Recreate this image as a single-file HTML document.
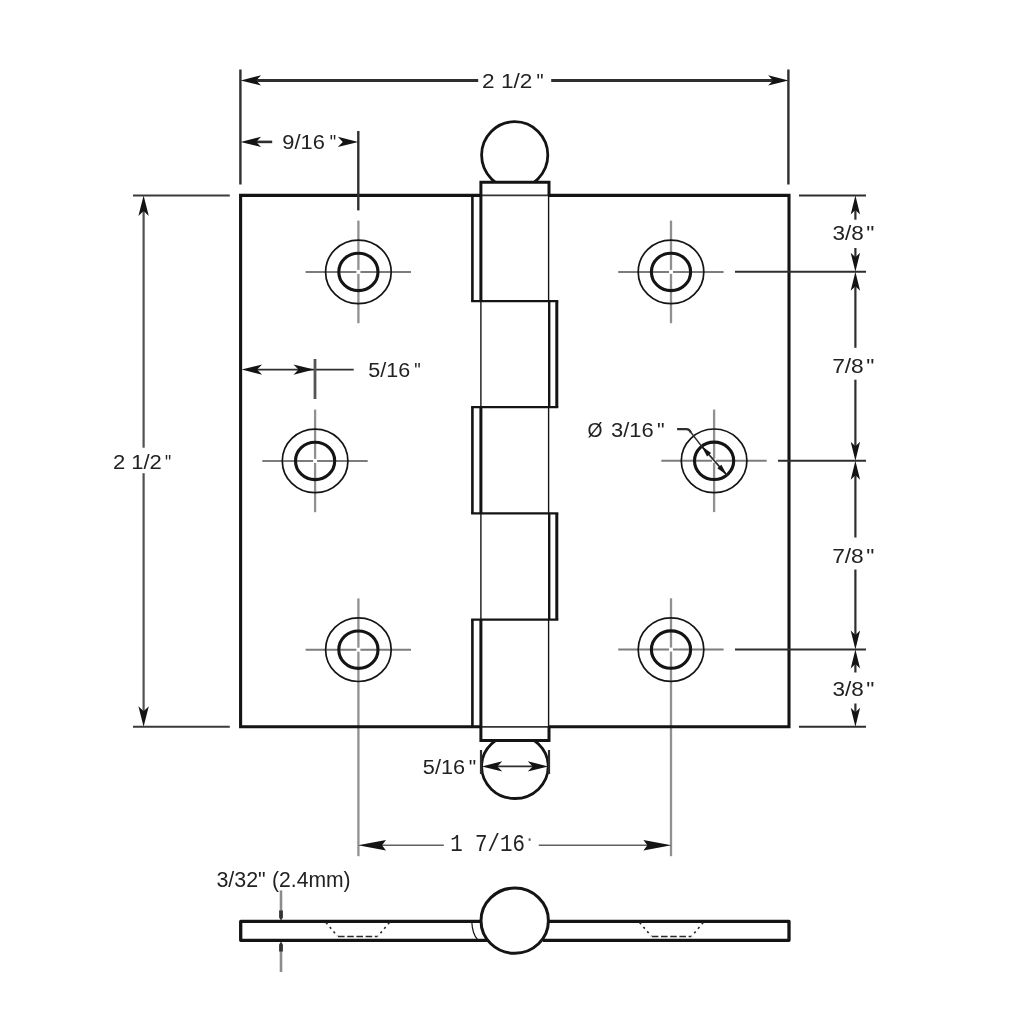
<!DOCTYPE html>
<html><head><meta charset="utf-8"><title>Hinge drawing</title>
<style>
html,body{margin:0;padding:0;background:#fff;}
body{width:1012px;height:1018px;overflow:hidden;}
svg{display:block;filter:grayscale(1);}
text{font-family:"Liberation Sans",sans-serif;fill:#222;}
.m{font-family:"Liberation Mono",monospace;}
</style></head><body>
<svg width="1012" height="1018" viewBox="0 0 1012 1018">
<rect width="1012" height="1018" fill="#fff"/>
<defs>
<path id="ah" d="M0,0 L-20.5,-5.2 L-15.5,0 L-20.5,5.2 Z"/>
<path id="al" d="M0,0 L-28,-5.2 L-24,0 L-28,5.2 Z"/>
<path id="as" d="M0,0 L-19,-4.7 L-14.5,0 L-19,4.7 Z"/>
<g id="hole">
 <line x1="-52.8" y1="0" x2="-2" y2="0" stroke="#7c7c7c" stroke-width="2"/>
 <line x1="2" y1="0" x2="52.6" y2="0" stroke="#7c7c7c" stroke-width="2"/>
 <ellipse rx="32.8" ry="31.8" fill="none" stroke="#141414" stroke-width="1.7"/>
 <ellipse rx="19.6" ry="18.7" fill="none" stroke="#141414" stroke-width="3.1"/>
</g>
</defs>

<line x1="358.4" y1="220.59999999999997" x2="358.4" y2="269.9" stroke="#909090" stroke-width="2.3" />
<line x1="358.4" y1="273.9" x2="358.4" y2="323.2" stroke="#909090" stroke-width="2.3" />
<line x1="315.1" y1="409.59999999999997" x2="315.1" y2="458.9" stroke="#909090" stroke-width="2.3" />
<line x1="315.1" y1="462.9" x2="315.1" y2="512.1999999999999" stroke="#909090" stroke-width="2.3" />
<line x1="358.4" y1="598.4000000000001" x2="358.4" y2="647.7" stroke="#909090" stroke-width="2.3" />
<line x1="358.4" y1="651.7" x2="358.4" y2="856.2" stroke="#909090" stroke-width="2.3" />
<line x1="671" y1="220.59999999999997" x2="671" y2="269.9" stroke="#909090" stroke-width="2.3" />
<line x1="671" y1="273.9" x2="671" y2="323.2" stroke="#909090" stroke-width="2.3" />
<line x1="714.1" y1="409.5" x2="714.1" y2="458.8" stroke="#909090" stroke-width="2.3" />
<line x1="714.1" y1="462.8" x2="714.1" y2="512.1" stroke="#909090" stroke-width="2.3" />
<line x1="671" y1="598.3000000000001" x2="671" y2="647.6" stroke="#909090" stroke-width="2.3" />
<line x1="671" y1="651.6" x2="671" y2="856.2" stroke="#909090" stroke-width="2.3" />
<path d="M481,195.4 H240.6 V726.8 H481 M549,195.4 H789.0 V726.8 H549" fill="none" stroke="#141414" stroke-width="3.1" stroke-linejoin="miter"/>
<line x1="481" y1="195.4" x2="549" y2="195.4" stroke="#333" stroke-width="1.8" />
<line x1="481" y1="726.8" x2="549" y2="726.8" stroke="#333" stroke-width="1.8" />
<path d="M480.9,195.4 V182.2 H549.0 V195.4" fill="none" stroke="#141414" stroke-width="3"/>
<path d="M480.9,726.8 V740.4 H549.0 V726.8" fill="none" stroke="#141414" stroke-width="3"/>
<line x1="480.9" y1="195.4" x2="480.9" y2="301.2" stroke="#141414" stroke-width="3" />
<line x1="548.6" y1="195.4" x2="548.6" y2="301.2" stroke="#141414" stroke-width="1.4" />
<line x1="472.4" y1="195.4" x2="472.4" y2="301.2" stroke="#141414" stroke-width="2.6" />
<line x1="480.9" y1="301.2" x2="480.9" y2="407.2" stroke="#141414" stroke-width="1.4" />
<line x1="549.2" y1="301.2" x2="549.2" y2="407.2" stroke="#141414" stroke-width="2.4" />
<line x1="556.8" y1="301.2" x2="556.8" y2="407.2" stroke="#141414" stroke-width="3" />
<line x1="480.9" y1="407.2" x2="480.9" y2="513.4" stroke="#141414" stroke-width="3" />
<line x1="548.6" y1="407.2" x2="548.6" y2="513.4" stroke="#141414" stroke-width="1.4" />
<line x1="472.4" y1="407.2" x2="472.4" y2="513.4" stroke="#141414" stroke-width="2.6" />
<line x1="480.9" y1="513.4" x2="480.9" y2="619.7" stroke="#141414" stroke-width="1.4" />
<line x1="549.2" y1="513.4" x2="549.2" y2="619.7" stroke="#141414" stroke-width="2.4" />
<line x1="556.8" y1="513.4" x2="556.8" y2="619.7" stroke="#141414" stroke-width="3" />
<line x1="480.9" y1="619.7" x2="480.9" y2="726.8" stroke="#141414" stroke-width="3" />
<line x1="548.6" y1="619.7" x2="548.6" y2="726.8" stroke="#141414" stroke-width="1.4" />
<line x1="472.4" y1="619.7" x2="472.4" y2="726.8" stroke="#141414" stroke-width="2.6" />
<path d="M471.09999999999997,301.2 H558.3" stroke="#141414" stroke-width="2.2" fill="none"/>
<path d="M471.09999999999997,407.2 H558.3" stroke="#141414" stroke-width="2.2" fill="none"/>
<path d="M471.09999999999997,513.4 H558.3" stroke="#141414" stroke-width="2.2" fill="none"/>
<path d="M471.09999999999997,619.7 H558.3" stroke="#141414" stroke-width="2.2" fill="none"/>
<clipPath id="ct"><rect x="470" y="100" width="90" height="82.2"/></clipPath>
<clipPath id="cb"><rect x="470" y="740.4" width="90" height="81"/></clipPath>
<ellipse cx="514.7" cy="155.1" rx="33.1" ry="33.4" fill="none" stroke="#141414" stroke-width="2.8" clip-path="url(#ct)"/>
<ellipse cx="514.9" cy="766.6" rx="33.3" ry="31.9" fill="none" stroke="#141414" stroke-width="2.8" clip-path="url(#cb)"/>
<use href="#hole" x="358.4" y="271.9"/>
<use href="#hole" x="315.1" y="460.9"/>
<use href="#hole" x="358.4" y="649.7"/>
<use href="#hole" x="671" y="271.9"/>
<use href="#hole" x="714.1" y="460.8"/>
<use href="#hole" x="671" y="649.6"/>
<line x1="240.4" y1="69.5" x2="240.4" y2="184.5" stroke="#2e2e2e" stroke-width="2.4" />
<line x1="788.4" y1="69.5" x2="788.4" y2="184.5" stroke="#2e2e2e" stroke-width="2.4" />
<line x1="254.6" y1="80.4" x2="478.2" y2="80.4" stroke="#2e2e2e" stroke-width="3" />
<line x1="551.2" y1="80.4" x2="775.0" y2="80.4" stroke="#2e2e2e" stroke-width="3" />
<use href="#ah" transform="translate(240.6,80.4) rotate(180)" fill="#141414"/>
<use href="#ah" transform="translate(788.6,80.4) rotate(0)" fill="#141414"/>
<text transform="translate(482.07,87.7) scale(1.0865,1)" font-size="20.8">2 1/2</text>
<text transform="translate(536.46,87.7) scale(0.9580,1)" font-size="20.8">&quot;</text>
<line x1="358.3" y1="131" x2="358.3" y2="210.4" stroke="#2e2e2e" stroke-width="2.4" />
<line x1="252.6" y1="141.9" x2="272.2" y2="141.9" stroke="#2e2e2e" stroke-width="2.6" />
<use href="#ah" transform="translate(240.6,141.9) rotate(180)" fill="#141414"/>
<use href="#ah" transform="translate(358.3,141.9) rotate(0)" fill="#141414"/>
<text transform="translate(282.29,148.8) scale(1.0511,1)" font-size="20.8">9/16</text>
<text transform="translate(329.64,148.8) scale(0.8693,1)" font-size="20.8">&quot;</text>
<line x1="250.6" y1="369.6" x2="353.7" y2="369.6" stroke="#2e2e2e" stroke-width="1.8" />
<line x1="315" y1="359" x2="315" y2="399" stroke="#555" stroke-width="2.8" />
<use href="#ah" transform="translate(241.6,369.6) rotate(180)" fill="#141414"/>
<use href="#ah" transform="translate(314,369.6) rotate(0)" fill="#141414"/>
<text transform="translate(368.24,376.9) scale(1.0348,1)" font-size="20.8">5/16</text>
<text transform="translate(414.24,376.9) scale(0.8693,1)" font-size="20.8">&quot;</text>
<line x1="133" y1="195.4" x2="229.8" y2="195.4" stroke="#3a3a3a" stroke-width="2" />
<line x1="133" y1="726.8" x2="229.8" y2="726.8" stroke="#3a3a3a" stroke-width="2" />
<line x1="143.6" y1="205.4" x2="143.6" y2="447.7" stroke="#505050" stroke-width="2.2" />
<line x1="143.6" y1="473.2" x2="143.6" y2="716.8" stroke="#505050" stroke-width="2.2" />
<use href="#ah" transform="translate(143.6,195.4) rotate(-90)" fill="#141414"/>
<use href="#ah" transform="translate(143.6,726.8) rotate(90)" fill="#141414"/>
<text transform="translate(112.90,468.7) scale(1.0593,1)" font-size="20.8">2 1/2</text>
<text transform="translate(165.07,468.7) scale(0.8338,1)" font-size="20.8">&quot;</text>
<line x1="799" y1="195.4" x2="866" y2="195.4" stroke="#2e2e2e" stroke-width="2" />
<line x1="735" y1="271.7" x2="866" y2="271.7" stroke="#2e2e2e" stroke-width="2" />
<line x1="778" y1="460.7" x2="866" y2="460.7" stroke="#2e2e2e" stroke-width="2" />
<line x1="735" y1="649.6" x2="866" y2="649.6" stroke="#2e2e2e" stroke-width="2" />
<line x1="799" y1="726.8" x2="866" y2="726.8" stroke="#2e2e2e" stroke-width="2" />
<line x1="855.4" y1="203.4" x2="855.4" y2="219.7" stroke="#2e2e2e" stroke-width="2.2" />
<line x1="855.4" y1="248" x2="855.4" y2="263.7" stroke="#2e2e2e" stroke-width="2.2" />
<use href="#as" transform="translate(855.4,195.4) rotate(-90)" fill="#141414"/>
<use href="#as" transform="translate(855.4,271.7) rotate(90)" fill="#141414"/>
<text transform="translate(832.44,239.8) scale(1.0835,1)" font-size="20.8">3/8</text>
<text transform="translate(866.34,239.8) scale(1.0999,1)" font-size="20.8">&quot;</text>
<line x1="855.4" y1="279.7" x2="855.4" y2="347.8" stroke="#2e2e2e" stroke-width="2.2" />
<line x1="855.4" y1="379.7" x2="855.4" y2="452.7" stroke="#2e2e2e" stroke-width="2.2" />
<use href="#as" transform="translate(855.4,271.7) rotate(-90)" fill="#141414"/>
<use href="#as" transform="translate(855.4,460.7) rotate(90)" fill="#141414"/>
<text transform="translate(832.14,372.7) scale(1.0943,1)" font-size="20.8">7/8</text>
<text transform="translate(866.34,372.7) scale(1.0999,1)" font-size="20.8">&quot;</text>
<line x1="855.4" y1="468.7" x2="855.4" y2="537.5" stroke="#2e2e2e" stroke-width="2.2" />
<line x1="855.4" y1="569.5" x2="855.4" y2="641.6" stroke="#2e2e2e" stroke-width="2.2" />
<use href="#as" transform="translate(855.4,460.7) rotate(-90)" fill="#141414"/>
<use href="#as" transform="translate(855.4,649.6) rotate(90)" fill="#141414"/>
<text transform="translate(832.14,562.7) scale(1.0943,1)" font-size="20.8">7/8</text>
<text transform="translate(866.34,562.7) scale(1.0999,1)" font-size="20.8">&quot;</text>
<line x1="855.4" y1="657.6" x2="855.4" y2="672.5" stroke="#2e2e2e" stroke-width="2.2" />
<line x1="855.4" y1="703.5" x2="855.4" y2="718.8" stroke="#2e2e2e" stroke-width="2.2" />
<use href="#as" transform="translate(855.4,649.6) rotate(-90)" fill="#141414"/>
<use href="#as" transform="translate(855.4,726.8) rotate(90)" fill="#141414"/>
<text transform="translate(832.44,695.5) scale(1.0835,1)" font-size="20.8">3/8</text>
<text transform="translate(866.34,695.5) scale(1.0999,1)" font-size="20.8">&quot;</text>
<text transform="translate(587.54,437.0) scale(0.9264,1)" font-size="20.8">Ø</text>
<text transform="translate(611.07,437.0) scale(1.0543,1)" font-size="20.8">3/16</text>
<text transform="translate(657.00,437.0) scale(1.0290,1)" font-size="20.8">&quot;</text>
<path d="M677.1,429.2 H686.6 Q689.4,429.3 690.9,432.4 " fill="none" stroke="#2e2e2e" stroke-width="2.2"/>
<line x1="690.6" y1="432" x2="701.5" y2="446.1" stroke="#2e2e2e" stroke-width="1.5" />
<line x1="701.5" y1="446.1" x2="726.9" y2="475.1" stroke="#2e2e2e" stroke-width="1.6" />
<path d="M0,0 L-11.5,-2.7 L-11.5,2.7 Z" transform="translate(701.5,446.1) rotate(228.9)" fill="#141414"/>
<path d="M0,0 L-11.5,-2.7 L-11.5,2.7 Z" transform="translate(726.9,475.1) rotate(48.9)" fill="#141414"/>
<line x1="481" y1="750" x2="481" y2="774" stroke="#2e2e2e" stroke-width="2.2" />
<line x1="549" y1="750" x2="549" y2="774" stroke="#2e2e2e" stroke-width="2.2" />
<line x1="490" y1="766.4" x2="540" y2="766.4" stroke="#2e2e2e" stroke-width="1.6" />
<use href="#ah" transform="translate(481.8,766.4) rotate(180)" fill="#141414"/>
<use href="#ah" transform="translate(548.2,766.4) rotate(0)" fill="#141414"/>
<text transform="translate(422.83,773.6) scale(1.0452,1)" font-size="20.8">5/16</text>
<text transform="translate(468.72,773.6) scale(1.0112,1)" font-size="20.8">&quot;</text>
<line x1="380" y1="845.2" x2="443.8" y2="845.2" stroke="#606060" stroke-width="1.6" />
<line x1="538.8" y1="845.2" x2="650" y2="845.2" stroke="#606060" stroke-width="1.6" />
<use href="#al" transform="translate(358.0,845.2) rotate(180)" fill="#141414"/>
<use href="#al" transform="translate(671.4,845.2) rotate(0)" fill="#141414"/>
<text class="m" x="450.2" y="850.8" font-size="23.4" textLength="74.7" lengthAdjust="spacingAndGlyphs">1 7/16</text>
<rect x="528.6" y="838.4" width="2" height="2.4" fill="#555"/>
<text transform="translate(216.39,886.9) scale(1.0109,1)" font-size="21.2">3/32&quot;</text>
<text transform="translate(271.99,886.9) scale(0.9977,1)" font-size="21.2">(2.4mm)</text>
<line x1="281" y1="890.4" x2="281" y2="912" stroke="#8c8c8c" stroke-width="2.6" />
<line x1="281" y1="950" x2="281" y2="972" stroke="#8c8c8c" stroke-width="2.6" />
<path d="M0,0 L-3,-1.9 L-10,-1.9 L-10,1.9 L-3,1.9 Z" transform="translate(281,920.4) rotate(90)" fill="#333"/>
<path d="M0,0 L-3,-1.9 L-10,-1.9 L-10,1.9 L-3,1.9 Z" transform="translate(281,941.6) rotate(-90)" fill="#333"/>
<path d="M486,921.4 H240.7 V940.3 H490 M546,921.4 H789 V940.3 H543" fill="none" stroke="#141414" stroke-width="3.3" stroke-linejoin="round"/>
<path d="M471.8,922 Q472.4,934 477.6,939.6" fill="none" stroke="#141414" stroke-width="1.2"/>
<path d="M326,922.6 L337.4,936" fill="none" stroke="#2a2a2a" stroke-width="1.6" stroke-dasharray="2.2 3.6"/>
<path d="M389.4,922.6 L378,936" fill="none" stroke="#2a2a2a" stroke-width="1.6" stroke-dasharray="2.2 3.6"/>
<path d="M338.0,936.5 H377.6" fill="none" stroke="#2a2a2a" stroke-width="1.7" stroke-dasharray="6.6 2.6"/>
<path d="M639.6,922.6 L651.2,936" fill="none" stroke="#2a2a2a" stroke-width="1.6" stroke-dasharray="2.2 3.6"/>
<path d="M703.2,922.6 L691.8,936" fill="none" stroke="#2a2a2a" stroke-width="1.6" stroke-dasharray="2.2 3.6"/>
<path d="M651.8000000000001,936.5 H691.4" fill="none" stroke="#2a2a2a" stroke-width="1.7" stroke-dasharray="6.6 2.6"/>
<ellipse cx="514.7" cy="920.7" rx="33.7" ry="32.6" fill="#fff" stroke="#141414" stroke-width="3"/>
</svg></body></html>
